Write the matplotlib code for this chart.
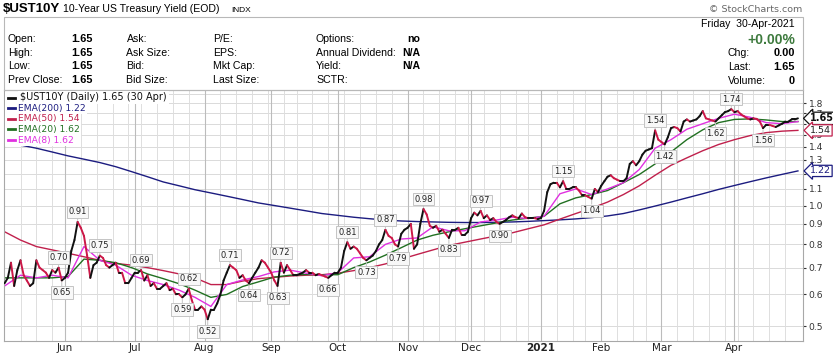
import numpy as np
import pandas as pd
import matplotlib
matplotlib.use("Agg")
import matplotlib.pyplot as plt
from matplotlib.collections import LineCollection
from matplotlib.lines import Line2D
from matplotlib.patches import Rectangle

# trading calendar (NYSE holidays in range)
holidays = ['2020-05-25', '2020-07-03', '2020-09-07', '2020-11-26', '2020-12-25',
            '2021-01-01', '2021-01-18', '2021-02-15', '2021-04-02']
days = pd.bdate_range('2020-05-04', '2021-04-30', freq='C', holidays=holidays)

# daily close of $UST10Y
close = [
    # May
    0.64, 0.66, 0.72, 0.63, 0.69, 0.73, 0.67, 0.65, 0.63, 0.64, 0.73, 0.70, 0.69, 0.68,
    0.66, 0.69, 0.68, 0.70, 0.65,
    # Jun
    0.66, 0.68, 0.77, 0.82, 0.91, 0.88, 0.84, 0.75, 0.66, 0.71, 0.72, 0.75, 0.74, 0.71,
    0.70, 0.71, 0.72, 0.68, 0.68, 0.64, 0.64, 0.66,
    # Jul
    0.68, 0.68, 0.69, 0.65, 0.67, 0.63, 0.64, 0.62, 0.62, 0.63, 0.64, 0.615, 0.62, 0.60,
    0.60, 0.59, 0.60, 0.62, 0.58, 0.55, 0.55, 0.56,
    # Aug
    0.55, 0.52, 0.55, 0.55, 0.57, 0.60, 0.65, 0.68, 0.71, 0.70, 0.69, 0.66, 0.67, 0.65,
    0.64, 0.66, 0.68, 0.70, 0.73, 0.72, 0.70,
    # Sep
    0.68, 0.65, 0.63, 0.72, 0.68, 0.71, 0.69, 0.67, 0.67, 0.675, 0.68, 0.69, 0.68, 0.68,
    0.67, 0.675, 0.67, 0.665, 0.66, 0.67, 0.68,
    # Oct
    0.68, 0.70, 0.77, 0.81, 0.78, 0.79, 0.78, 0.76, 0.74, 0.73, 0.74, 0.75, 0.77, 0.80,
    0.82, 0.87, 0.84, 0.83, 0.80, 0.79, 0.85, 0.87,
    # Nov
    0.88, 0.90, 0.78, 0.80, 0.90, 0.98, 0.95, 0.89, 0.88, 0.89, 0.86, 0.87, 0.85, 0.83,
    0.87, 0.87, 0.88, 0.845, 0.845, 0.86,
    # Dec
    0.93, 0.96, 0.945, 0.97, 0.93, 0.945, 0.92, 0.93, 0.91, 0.90, 0.91, 0.92, 0.935, 0.945,
    0.935, 0.93, 0.955, 0.935, 0.93, 0.93, 0.93, 0.925,
    # Jan
    0.93, 0.97, 1.08, 1.13, 1.14, 1.14, 1.11, 1.15, 1.10, 1.10, 1.11, 1.11, 1.09, 1.06,
    1.06, 1.05, 1.04, 1.10, 1.08,
    # Feb
    1.12, 1.15, 1.18, 1.19, 1.17, 1.16, 1.15, 1.15, 1.17, 1.27, 1.29, 1.26, 1.29, 1.34,
    1.37, 1.38, 1.39, 1.54, 1.46,
    # Mar
    1.44, 1.42, 1.48, 1.56, 1.57, 1.56, 1.53, 1.62, 1.64, 1.62, 1.63, 1.64, 1.67, 1.72,
    1.65, 1.64, 1.63, 1.62, 1.65, 1.68, 1.71, 1.72, 1.74,
    # Apr
    1.71, 1.72, 1.69, 1.67, 1.65, 1.64, 1.65, 1.645, 1.62, 1.56, 1.59, 1.59, 1.58, 1.57,
    1.585, 1.60, 1.62, 1.62, 1.64, 1.64, 1.65,
]

# moving averages, read every 5th trading day
ema_step = 5
ema200 = [1.44, 1.415, 1.39, 1.36, 1.33, 1.305, 1.28, 1.25, 1.215, 1.18,
          1.145, 1.12, 1.095, 1.075, 1.055, 1.035, 1.015, 1.0, 0.985, 0.97,
          0.955, 0.945, 0.935, 0.927, 0.92, 0.915, 0.912, 0.91, 0.908, 0.907,
          0.907, 0.908, 0.91, 0.913, 0.917, 0.921, 0.926, 0.933, 0.942, 0.955,
          0.975, 0.997, 1.02, 1.045, 1.07, 1.097, 1.122, 1.147, 1.172, 1.196, 1.22]
ema50 = [0.86, 0.82, 0.79, 0.775, 0.76, 0.745, 0.73, 0.717, 0.71, 0.70,
         0.688, 0.675, 0.66, 0.635, 0.635, 0.648, 0.657, 0.662, 0.667, 0.67,
         0.672, 0.678, 0.688, 0.70, 0.715, 0.735, 0.755, 0.775, 0.795, 0.81,
         0.825, 0.84, 0.855, 0.875, 0.895, 0.925, 0.955, 0.985, 1.02, 1.065,
         1.12, 1.19, 1.26, 1.315, 1.37, 1.42, 1.46, 1.495, 1.52, 1.533, 1.54]
ema20 = [0.66, 0.66, 0.66, 0.66, 0.665, 0.735, 0.73, 0.72, 0.70, 0.675,
         0.657, 0.638, 0.615, 0.59, 0.60, 0.628, 0.645, 0.663, 0.67, 0.673,
         0.672, 0.672, 0.70, 0.723, 0.752, 0.785, 0.82, 0.843, 0.86, 0.875,
         0.89, 0.905, 0.92, 0.93, 0.94, 1.01, 1.045, 1.065, 1.09, 1.14,
         1.195, 1.27, 1.36, 1.46, 1.545, 1.61, 1.64, 1.645, 1.635, 1.62, 1.62]
ema8 = [0.63, 0.67, 0.66, 0.67, 0.66, 0.79, 0.73, 0.71, 0.67, 0.65,
        0.635, 0.615, 0.59, 0.56, 0.635, 0.652, 0.665, 0.683, 0.69, 0.678,
        0.668, 0.68, 0.74, 0.745, 0.80, 0.825, 0.83, 0.885, 0.865, 0.865,
        0.91, 0.92, 0.935, 0.928, 0.94, 1.07, 1.10, 1.065, 1.10, 1.14,
        1.23, 1.39, 1.46, 1.55, 1.60, 1.65, 1.69, 1.66, 1.61, 1.60, 1.62]

# labelled highs/lows: (trading day, above/below)
peaks = [(17, 'a'), (18, 'b'), (23, 'a'), (30, 'a'), (43, 'a'), (56, 'b'), (58, 'a'),
         (64, 'b'), (71, 'a'), (77, 'b'), (86, 'b'), (87, 'a'), (102, 'b'), (108, 'a'),
         (114, 'b'), (120, 'a'), (124, 'b'), (132, 'a'), (140, 'b'), (150, 'a'),
         (156, 'b'), (176, 'a'), (185, 'b'), (205, 'a'), (208, 'b'), (224, 'b'),
         (229, 'a'), (239, 'b')]

yticks = [0.5, 0.6, 0.7, 0.8, 0.9, 1.0, 1.1, 1.2, 1.3, 1.4, 1.5, 1.6, 1.7, 1.8]

C_DOWN = '#cc1848'
C200, C50, C20, C8 = '#1c1c80', '#c0204c', '#217021', '#e030e0'

W, H = 833, 354
fig = plt.figure(figsize=(W / 100, H / 100), dpi=100)


def fx(x): return x / W
def fy(y): return 1 - y / H


ax = fig.add_axes([fx(4), fy(340.5), fx(799), 250.5 / H])
n = len(close)
xs = np.arange(n)
cl = np.array(close)

# grid
for v in yticks + [1.9]:
    ax.axhline(v, color='#dadada', lw=0.7, zorder=0)
week = days.isocalendar().week.values
for i in range(1, n):
    if days[i].month != days[i - 1].month:
        ax.axvline(i, color='#bcbcbc', lw=0.8, zorder=0)
    elif week[i] != week[i - 1]:
        ax.axvline(i, color='#dedede', lw=0.7, zorder=0)

ex = np.arange(0, n, ema_step)
ax.plot(ex, ema200, color=C200, lw=1.0, zorder=2)
ax.plot(ex, ema50, color=C50, lw=1.0, zorder=2)
ax.plot(ex, ema20, color=C20, lw=1.0, zorder=2)
ax.plot(ex, ema8, color=C8, lw=1.0, zorder=2)

segs = [[(xs[i], cl[i]), (xs[i + 1], cl[i + 1])] for i in range(n - 1)]
cols = ['#111111' if cl[i + 1] >= cl[i] else C_DOWN for i in range(n - 1)]
ax.add_collection(LineCollection(segs, colors=cols, linewidths=1.4,
                                 capstyle='round', zorder=3))

for i, side in peaks:
    dy = 10 if side == 'a' else -12
    ax.annotate(f'{close[i]:.2f}', xy=(i, close[i]), xytext=(0, dy),
                textcoords='offset pixels', ha='center', va='center',
                fontsize=6, color='#222222', zorder=5,
                bbox=dict(boxstyle='square,pad=0.2', fc='#f8f8f8', ec='#c4c4c4', lw=0.7),
                arrowprops=dict(arrowstyle='-', color='#c4c4c4', lw=0.7,
                                shrinkA=0, shrinkB=1))

ax.set_yscale('log')
ax.set_ylim(0.4605, 1.942)
ax.set_xlim(-0.2, 251.6)
ax.yaxis.tick_right()
ax.set_yticks(yticks)
ax.set_yticklabels([f'{v:.1f}' for v in yticks])
ax.yaxis.set_minor_locator(matplotlib.ticker.NullLocator())
ax.tick_params(axis='y', length=2, pad=2, labelsize=6.6, colors='#333333')

mpos = [i for i in range(1, n) if days[i].month != days[i - 1].month]
mlab = ['2021' if days[i].month == 1 else days[i].strftime('%b') for i in mpos]
ax.set_xticks(mpos)
ax.set_xticklabels(mlab)
ax.tick_params(axis='x', length=0, pad=2, labelsize=7.5, colors='#222222')
for t in ax.get_xticklabels():
    if t.get_text() == '2021':
        t.set_fontweight('bold')
for s in ax.spines.values():
    s.set_color('#a8a8a8')
    s.set_linewidth(0.8)

# last value tags
for val, ec, tc, bold in [(close[-1], '#111111', '#111111', True),
                          (ema50[-1], C50, '#222222', False),
                          (ema200[-1], C200, C200, False)]:
    ax.annotate(f'{val:.2f}', xy=(1, val), xycoords=('axes fraction', 'data'),
                xytext=(7, 0), textcoords='offset pixels', ha='left', va='center',
                fontsize=7 if bold else 6.8, fontweight='bold' if bold else 'normal',
                color=tc, annotation_clip=False, zorder=6,
                bbox=dict(boxstyle='larrow,pad=0.12', fc='white', ec=ec, lw=0.9))

# in-chart legend
fig.add_artist(Rectangle((fx(5), fy(146)), fx(12.5), 54 / H, transform=fig.transFigure,
                         fc='white', ec='none', zorder=2.8))
leg = [('$UST10Y (Daily) 1.65 (30 Apr)', '#111111', 97.5, 7),
       ('EMA(200) 1.22', C200, 108, 6.6),
       ('EMA(50) 1.54', C50, 118.5, 6.6),
       ('EMA(20) 1.62', C20, 129.3, 6.6),
       ('EMA(8) 1.62', C8, 140, 6.6)]
for k, (txt, c, y, fs) in enumerate(leg):
    fig.add_artist(Line2D([fx(7.5), fx(15)], [fy(y), fy(y)], color=c, lw=2, zorder=3.5))
    fig.text(fx(20 if k == 0 else 17.5), fy(y), txt, color=c, fontsize=fs,
             va='center', ha='left',
             bbox=dict(boxstyle='square,pad=0.2', fc='white', ec='none'))

# header
hf = 'Liberation Sans'
hs = 7.6
fig.text(fx(3), fy(9.5), '$UST10Y', fontsize=9.5, fontweight='bold', family=hf, va='center')
fig.text(fx(63), fy(9.5), '10-Year US Treasury Yield (EOD)', fontsize=7.6, family=hf, va='center')
fig.text(fx(231), fy(10), 'INDX', fontsize=6, family=hf, va='center')
fig.text(fx(802.5), fy(9.3), '\u00a9 StockCharts.com', fontsize=6.8, color='#666666',
         ha='right', va='center')
fig.add_artist(Rectangle((fx(4), fy(90)), fx(799), (90 - 16.5) / H, transform=fig.transFigure,
                         fill=False, ec='#b8b8b8', lw=0.8))

rows_y = [39, 52.5, 66, 80]
col1 = ['Open:', 'High:', 'Low:', 'Prev Close:']
col1v = ['1.65', '1.65', '1.65', '1.65']
col2 = ['Ask:', 'Ask Size:', 'Bid:', 'Bid Size:']
col3 = ['P/E:', 'EPS:', 'Mkt Cap:', 'Last Size:']
col4 = ['Options:', 'Annual Dividend:', 'Yield:', 'SCTR:']
col4v = ['no', 'N/A', 'N/A', '']
for k, y in enumerate(rows_y):
    fig.text(fx(8), fy(y), col1[k], fontsize=hs, family=hf, va='center')
    fig.text(fx(71), fy(y), col1v[k], fontsize=hs + 0.3, family=hf, va='center', fontweight='bold')
    fig.text(fx(126.5), fy(y), col2[k], fontsize=hs, family=hf, va='center')
    fig.text(fx(213), fy(y), col3[k], fontsize=hs, family=hf, va='center')
    fig.text(fx(316), fy(y), col4[k], fontsize=hs, family=hf, va='center')
    fig.text(fx(420), fy(y), col4v[k], fontsize=hs, family=hf, va='center', ha='right',
             fontweight='bold')

fig.text(fx(795), fy(24.3), 'Friday  30-Apr-2021', fontsize=hs, family=hf, va='center', ha='right')
fig.text(fx(795), fy(39.5), '+0.00%', fontsize=10, family=hf, va='center', ha='right',
         fontweight='bold', color='#3d7a3d')
for lab, val, y in [('Chg:', '0.00', 52.5), ('Last:', '1.65', 67.5), ('Volume:', '0', 81)]:
    fig.text(fx(728), fy(y), lab, fontsize=hs, family=hf, va='center')
    fig.text(fx(795), fy(y), val, fontsize=hs + 0.3, family=hf, va='center', ha='right',
             fontweight='bold')

fig.savefig('out.png', dpi=100, facecolor='white')
